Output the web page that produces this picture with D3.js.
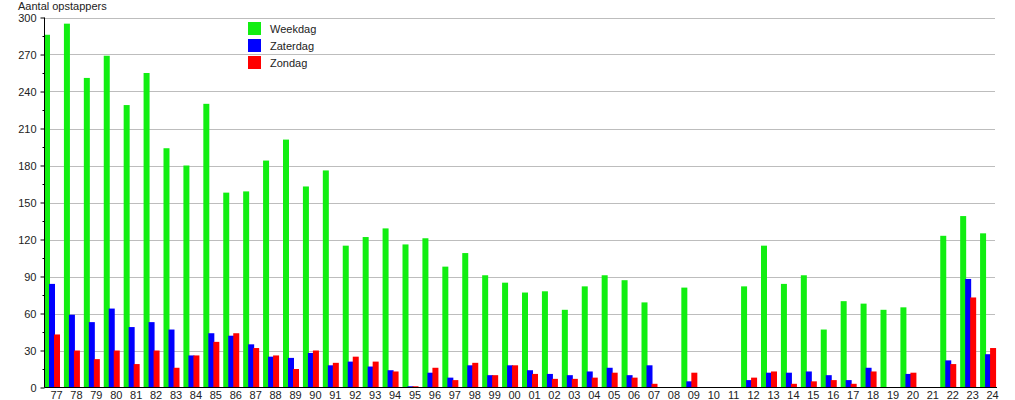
<!DOCTYPE html>
<html>
<head>
<meta charset="utf-8">
<script src="https://cdnjs.cloudflare.com/ajax/libs/d3/7.8.5/d3.min.js"></script>
<style>
  body { margin: 0; background: #fff; }
  text { font-family: "Liberation Sans", Arial, sans-serif; }
</style>
</head>
<body>
<div class="viewbox"></div>
<script>
  // jaren 77 .. 24
  const years = ["77","78","79","80","81","82","83","84","85","86","87","88","89","90",
    "91","92","93","94","95","96","97","98","99","00","01","02","03","04","05","06",
    "07","08","09","10","11","12","13","14","15","16","17","18","19","20","21","22","23","24"]

  const weekdag = [286,295,251,269,229,255,194,180,230,158,159,184,201,163,
    176,115,122,129,116,121,98,109,91,85,77,78,63,82,91,87,
    69,0,81,0,0,82,115,84,91,47,70,68,63,65,0,123,139,125]

  const zaterdag = [84,59,53,64,49,53,47,26,44,42,35,25,24,28,
    18,21,17,14,1,12,8,18,10,18,14,11,10,13,16,10,
    18,0,5,0,0,6,12,12,13,10,6,16,0,11,0,22,88,27]

  const zondag = [43,30,23,30,19,30,16,26,37,44,32,26,15,30,
    20,25,21,13,1,16,6,20,10,18,11,7,7,8,12,8,
    3,0,12,0,0,8,13,3,5,6,3,13,0,12,0,19,73,32]

  const seriesNames = ["Weekdag", "Zaterdag", "Zondag"]
  const seriesColors = ["#11ee11", "#0000ff", "#ff0000"]
  const yTicks = [0, 30, 60, 90, 120, 150, 180, 210, 240, 270, 300]
  const yMinorTicks = [15, 45, 75, 105, 135, 165, 195, 225, 255, 285]

  const svg_width = 1015
  const svg_height = 400
  // plot edges (note: "top" is taken by window.top, so pTop etc)
  const pLeft = 44.5, pRight = 995, pTop = 17.5, pBottom = 387.5

  let svg = d3.select(".viewbox")
    .append("svg")
    .attr("width", svg_width)
    .attr("height", svg_height)

  let x = d3.scaleBand().domain(years).range([44, 1000])
  // bars within a group overlap a bit, so a point scale for the offset
  let xs = d3.scalePoint().domain(seriesNames).range([0, 10])
  let y = d3.scaleLinear().domain([0, 300]).range([pBottom, pTop])
  const barW = 6

  // gridlines
  svg.append("g")
    .selectAll("line")
    .data(yTicks.filter(d => d > 0))
    .enter()
    .append("line")
    .attr("x1", pLeft)
    .attr("x2", pRight)
    .attr("y1", d => Math.round(y(d)) + 0.5)
    .attr("y2", d => Math.round(y(d)) + 0.5)
    .attr("stroke", "#bdbdbd")

  // bars, green first so blue and red sit on top
  const allSeries = [weekdag, zaterdag, zondag]
  allSeries.forEach((values, i) => {
    svg.append("g")
      .selectAll("rect")
      .data(values.map((v, j) => ({ year: years[j], v: v })).filter(d => d.v > 0))
      .enter()
      .append("rect")
      .attr("x", d => x(d.year) + xs(seriesNames[i]))
      .attr("width", barW)
      .attr("y", d => y(d.v))
      .attr("height", d => pBottom - y(d.v))
      .attr("fill", seriesColors[i])
  })

  // y axis
  let yAxis = svg.append("g")
    .attr("transform", `translate(${pLeft},0)`)
    .call(d3.axisLeft(y).tickValues(yTicks).tickSize(4).tickPadding(4).tickFormat(d3.format("d")))
  yAxis.select(".domain").remove()
  yAxis.selectAll("text").style("font-size", "11px").attr("fill", "#222")

  let yMinor = svg.append("g")
    .attr("transform", `translate(${pLeft},0)`)
    .call(d3.axisLeft(y).tickValues(yMinorTicks).tickSize(2).tickFormat(""))
  yMinor.select(".domain").remove()

  svg.append("line")
    .attr("x1", pLeft).attr("x2", pLeft)
    .attr("y1", pTop).attr("y2", pBottom)
    .attr("stroke", "#000")

  // x axis
  let xAxis = svg.append("g")
    .attr("transform", `translate(0,${pBottom})`)
    .call(d3.axisBottom(x).tickSize(0).tickPadding(4))
  xAxis.select(".domain").remove()
  xAxis.selectAll(".tick")
    .attr("transform", d => `translate(${x(d) + 12.5},0)`)
  xAxis.selectAll("text").style("font-size", "11px").attr("fill", "#222")

  svg.append("line")
    .attr("x1", pLeft).attr("x2", 997)
    .attr("y1", pBottom).attr("y2", pBottom)
    .attr("stroke", "#000")

  // title of the y axis
  svg.append("text")
    .attr("x", 18)
    .attr("y", 10)
    .style("font-size", "11px")
    .attr("fill", "#222")
    .text("Aantal opstappers")

  // legend
  let legend = svg.append("g")
    .selectAll("g")
    .data(seriesNames)
    .enter()
    .append("g")
    .attr("transform", (d, i) => `translate(248,${22 + i * 17})`)
  legend.append("rect")
    .attr("width", 13)
    .attr("height", 13)
    .attr("fill", (d, i) => seriesColors[i])
  legend.append("text")
    .attr("x", 22)
    .attr("y", 11)
    .style("font-size", "11px")
    .attr("fill", "#222")
    .text(d => d)
</script>
</body>
</html>
